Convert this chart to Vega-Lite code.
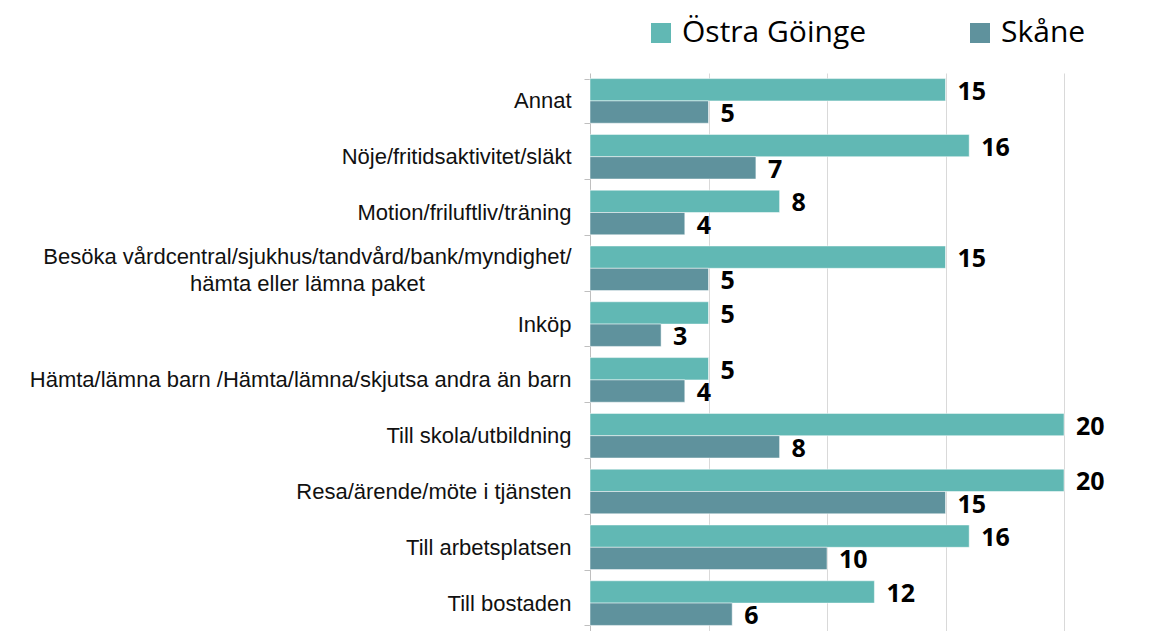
{
  "$schema": "https://vega.github.io/schema/vega-lite/v6.json",
  "autosize": "none",
  "padding": {"left": 590, "top": 73, "right": 0, "bottom": 0},
  "width": 579,
  "height": 558,
  "background": "white",
  "config": {"view": {"stroke": null}},
  "data": {
    "values": [
      {"cat": "Annat", "series": "Östra Göinge", "value": 15},
      {"cat": "Annat", "series": "Skåne", "value": 5},
      {"cat": "Nöje/fritidsaktivitet/släkt", "series": "Östra Göinge", "value": 16},
      {"cat": "Nöje/fritidsaktivitet/släkt", "series": "Skåne", "value": 7},
      {"cat": "Motion/friluftliv/träning", "series": "Östra Göinge", "value": 8},
      {"cat": "Motion/friluftliv/träning", "series": "Skåne", "value": 4},
      {"cat": "Besöka vårdcentral/sjukhus/tandvård/bank/myndighet/ hämta eller lämna paket", "series": "Östra Göinge", "value": 15},
      {"cat": "Besöka vårdcentral/sjukhus/tandvård/bank/myndighet/ hämta eller lämna paket", "series": "Skåne", "value": 5},
      {"cat": "Inköp", "series": "Östra Göinge", "value": 5},
      {"cat": "Inköp", "series": "Skåne", "value": 3},
      {"cat": "Hämta/lämna barn /Hämta/lämna/skjutsa andra än barn", "series": "Östra Göinge", "value": 5},
      {"cat": "Hämta/lämna barn /Hämta/lämna/skjutsa andra än barn", "series": "Skåne", "value": 4},
      {"cat": "Till skola/utbildning", "series": "Östra Göinge", "value": 20},
      {"cat": "Till skola/utbildning", "series": "Skåne", "value": 8},
      {"cat": "Resa/ärende/möte i tjänsten", "series": "Östra Göinge", "value": 20},
      {"cat": "Resa/ärende/möte i tjänsten", "series": "Skåne", "value": 15},
      {"cat": "Till arbetsplatsen", "series": "Östra Göinge", "value": 16},
      {"cat": "Till arbetsplatsen", "series": "Skåne", "value": 10},
      {"cat": "Till bostaden", "series": "Östra Göinge", "value": 12},
      {"cat": "Till bostaden", "series": "Skåne", "value": 6}
    ]
  },
  "encoding": {
    "y": {
      "field": "cat",
      "type": "nominal",
      "sort": null,
      "scale": {"paddingInner": 0.2, "paddingOuter": 0.1},
      "axis": {
        "title": null,
        "domainColor": "#BFBFBF",
        "tickColor": "#BFBFBF",
        "tickSize": 6,
        "tickBand": "extent",
        "labelFont": "Liberation Sans",
        "labelFontSize": 22,
        "labelColor": "#111111",
        "labelLimit": 700,
        "labelLineHeight": 27,
        "labelExpr": "indexof(datum.label, 'Besöka') === 0 ? ['Besöka vårdcentral/sjukhus/tandvård/bank/myndighet/', 'hämta eller lämna paket'] : datum.label",
        "labelAlign": {"condition": {"test": "indexof(datum.label, 'Besöka') === 0", "value": "center"}, "value": "right"},
        "labelPadding": {"condition": {"test": "indexof(datum.label, 'Besöka') === 0", "value": 277}, "value": 13},
        "labelOffset": {"condition": {"test": "indexof(datum.label, 'Besöka') === 0", "value": -12}, "value": 0}
      }
    },
    "yOffset": {"field": "series", "type": "nominal", "sort": ["Östra Göinge", "Skåne"]},
    "x": {
      "field": "value",
      "type": "quantitative",
      "scale": {"domain": [0, 24.43], "nice": false},
      "axis": {
        "title": null,
        "labels": false,
        "ticks": false,
        "domain": false,
        "grid": true,
        "gridColor": "#D9D9D9",
        "values": [5, 10, 15, 20]
      }
    }
  },
  "layer": [
    {
      "mark": {"type": "bar", "stroke": "white", "strokeWidth": 0.5},
      "encoding": {
        "color": {
          "field": "series",
          "type": "nominal",
          "sort": ["Östra Göinge", "Skåne"],
          "scale": {"domain": ["Östra Göinge", "Skåne"], "range": ["#61B8B4", "#5F929D"]},
          "legend": {
            "title": null,
            "orient": "none",
            "direction": "horizontal",
            "legendX": 56,
            "legendY": -55,
            "symbolType": "square",
            "symbolSize": 400,
            "symbolStrokeWidth": 0,
            "labelFont": "Open Sans",
            "labelFontSize": 30,
            "labelColor": "#000000",
            "labelOffset": 6,
            "columnPadding": 98,
            "labelLimit": 400
          }
        }
      }
    },
    {
      "mark": {"type": "text", "align": "left", "baseline": "middle", "dx": 12, "dy": 2, "font": "Open Sans", "fontWeight": "bold", "fontSize": 25, "color": "#000000"},
      "encoding": {"text": {"field": "value", "type": "quantitative"}}
    }
  ]
}
